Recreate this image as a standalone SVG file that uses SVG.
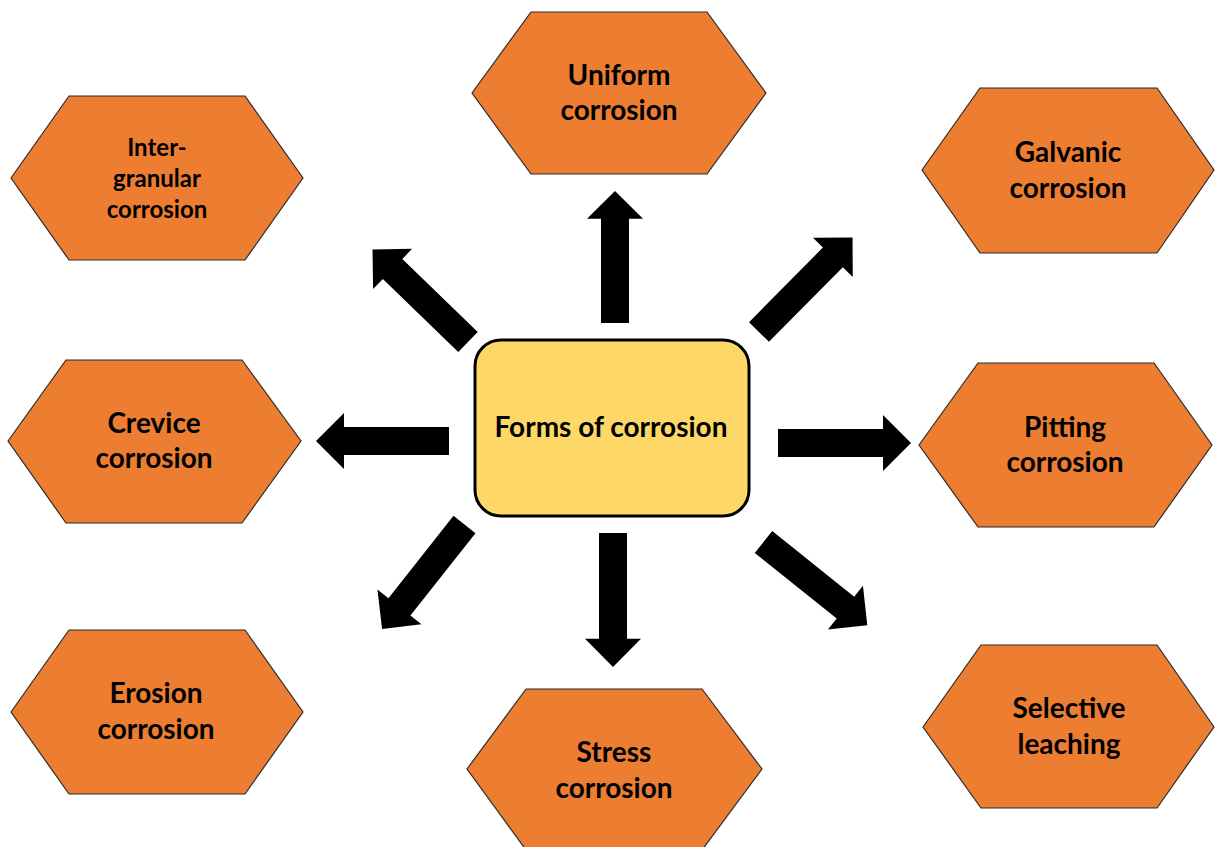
<svg xmlns="http://www.w3.org/2000/svg" width="1215" height="847" viewBox="0 0 1215 847">
<defs>
<style>
.hex{fill:#ED7D31;stroke:#2b2b2b;stroke-width:1.2}
.t{font-family:Lato,"Liberation Sans",sans-serif;font-weight:bold;font-size:28px;fill:#000;text-anchor:middle}
.ts{font-size:24px}
.arr{fill:#000}
</style>
<path id="ar" d="M0,-14 L105,-14 L105,-28 L133,0 L105,28 L105,14 L0,14 Z"/>
</defs>
<rect width="1215" height="847" fill="#fff"/>
<g id="connectors">
<use href="#ar" class="arr" transform="translate(615,323) rotate(-90) scale(0.993,1)"/>
<use href="#ar" class="arr" transform="translate(613,533) rotate(90) scale(1.0075,1)"/>
<use href="#ar" class="arr" transform="translate(449,441) rotate(180)"/>
<use href="#ar" class="arr" transform="translate(778,443)"/>
<use href="#ar" class="arr" transform="translate(468,342) rotate(-135.9)"/>
<use href="#ar" class="arr" transform="translate(759,332) rotate(-45.3)"/>
<use href="#ar" class="arr" transform="translate(464.5,524.5) rotate(128.3)"/>
<use href="#ar" class="arr" transform="translate(763.5,542) rotate(38.7)"/>
</g>
<g id="center">
<rect x="475" y="340" width="274" height="176" rx="26" ry="26" fill="#FDD866" stroke="#000" stroke-width="3"/>
<text class="t" x="611" y="437">Forms of corrosion</text>
</g>
<g id="uniform">
<polygon class="hex" points="472,93 531,12 707,12 766,93 707,174 531,174"/>
<text class="t" x="619" y="85">Uniform</text>
<text class="t" x="619" y="120">corrosion</text>
</g>
<g id="intergranular">
<polygon class="hex" points="11,178 69,96 245,96 303,178 245,260 69,260"/>
<text class="t ts" x="157" y="156">Inter-</text>
<text class="t ts" x="157" y="187">granular</text>
<text class="t ts" x="157" y="218">corrosion</text>
</g>
<g id="galvanic">
<polygon class="hex" points="922,170 980,88 1157,88 1214,170 1157,253 980,253"/>
<text class="t" x="1068" y="162">Galvanic</text>
<text class="t" x="1068" y="198">corrosion</text>
</g>
<g id="crevice">
<polygon class="hex" points="8,441 66,360 242,360 301,441 242,523 66,523"/>
<text class="t" x="154" y="433">Crevice</text>
<text class="t" x="154" y="468">corrosion</text>
</g>
<g id="pitting">
<polygon class="hex" points="919,445 978,363 1154,363 1212,445 1154,527 978,527"/>
<text class="t" x="1065" y="437">Pitting</text>
<text class="t" x="1065" y="472">corrosion</text>
</g>
<g id="erosion">
<polygon class="hex" points="11,712 69,630 245,630 303,712 245,794 69,794"/>
<text class="t" x="156" y="703">Erosion</text>
<text class="t" x="156" y="739">corrosion</text>
</g>
<g id="stress">
<polygon class="hex" points="467,769 526,689 702,689 762,769 702,850 526,850"/>
<text class="t" x="614" y="762">Stress</text>
<text class="t" x="614" y="798">corrosion</text>
</g>
<g id="selective">
<polygon class="hex" points="923,727 981,645 1157,645 1214,727 1157,808 981,808"/>
<text class="t" x="1069" y="718">Selective</text>
<text class="t" x="1069" y="754">leaching</text>
</g>
</svg>
